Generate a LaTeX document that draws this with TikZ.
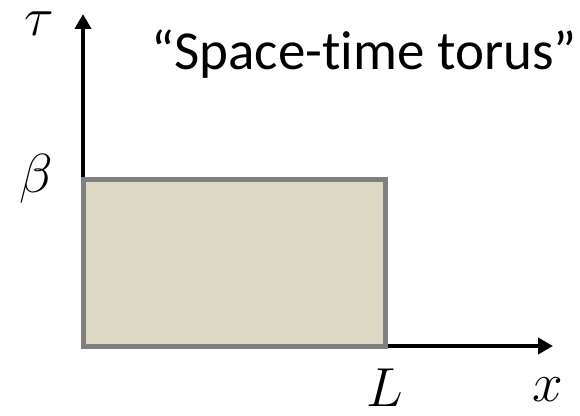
\RequirePackage{fix-cm}
\documentclass[tikz,border=0pt]{standalone}
\usepackage{amsmath,amssymb}
\usepackage{fontspec}
\newfontfamily\calibri[Ligatures={NoCommon}]{Carlito}
\usetikzlibrary{arrows.meta}
\definecolor{torusfill}{RGB}{221,216,196}
\definecolor{torusedge}{RGB}{128,128,128}

\begin{document}
\begin{tikzpicture}[x=1pt,y=1pt,
  axis/.style={line width=4pt,-{Triangle[width=16pt,length=15pt]}},
  biglabel/.style={font=\fontsize{55}{60}\selectfont,inner sep=0pt}]
\useasboundingbox (0,0) rectangle (580,415);
\coordinate (o) at (83,69);
\coordinate (tauend) at (83,401);
\coordinate (xend) at (553,69);
\coordinate (corner) at (385,235);
\draw[axis] (o) -- (tauend);
\draw[axis] (o) -- (xend);
\filldraw[fill=torusfill,draw=torusedge,line width=5pt] (o) rectangle (corner);
\node[biglabel] (tau) at (39,391) {$\tau$};
\node[biglabel] (beta) at (36,236) {$\beta$};
\node[biglabel] (len) at (385,27) {$L$};
\node[biglabel] (xlab) at (548,25) {$x$};
\node[font=\calibri\fontsize{55}{60}\selectfont,inner sep=0pt,anchor=base] (title) at (364,345)
 {“Space-time torus”};
\end{tikzpicture}
\end{document}
